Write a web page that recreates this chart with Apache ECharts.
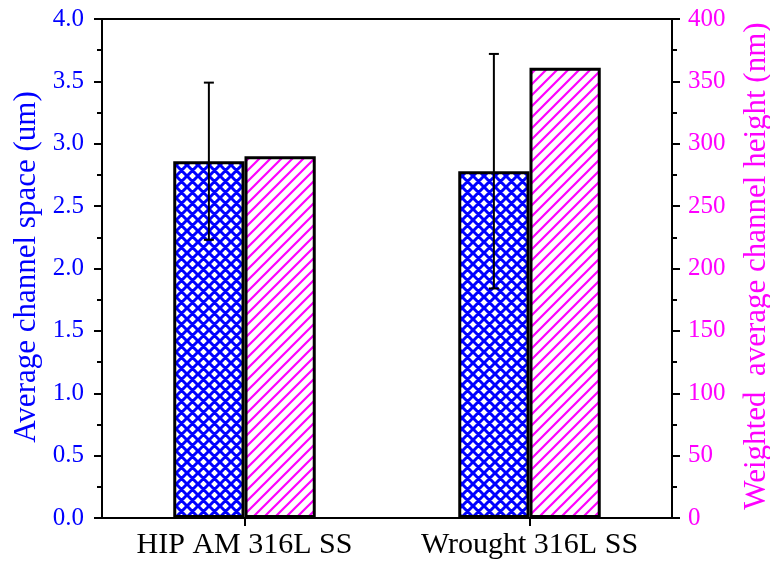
<!DOCTYPE html>
<html><head><meta charset="utf-8">
<script src="https://cdn.jsdelivr.net/npm/echarts@6/dist/echarts.min.js"></script>
<style>html,body{margin:0;padding:0;background:#fff}#c{width:770px;height:565px}</style>
</head><body><div id="c"></div>
<script>
const categories = ['HIP AM 316L SS', 'Wrought 316L SS'];
const channelSpace = [2.86, 2.78];
const channelSpaceErr = [0.63, 0.94];
const channelHeight = [290, 361];
const leftTitle = 'Average channel space (um)';
const rightTitle = 'Weighted  average channel height (nm)';

function makePattern(color, cross) {
  const s = 11;
  const c = document.createElement('canvas');
  c.width = s; c.height = s;
  const ctx = c.getContext('2d');
  ctx.fillStyle = '#fff';
  ctx.fillRect(0, 0, s, s);
  ctx.strokeStyle = color;
  ctx.lineWidth = cross ? 3 : 2.2;
  ctx.beginPath();
  for (let k = -1; k <= 1; k++) {
    ctx.moveTo(k * s - 1, s + 1); ctx.lineTo(k * s + s + 1, -1);
    if (cross) { ctx.moveTo(k * s - 1, -1); ctx.lineTo(k * s + s + 1, s + 1); }
  }
  ctx.stroke();
  return c;
}

const chart = echarts.init(document.getElementById('c'));
const font = '"Liberation Serif", "Times New Roman", serif';
chart.setOption({
  animation: false,
  backgroundColor: '#fff',
  grid: { left: 102, right: 98, top: 19, bottom: 47, show: true, borderColor: '#000', borderWidth: 2, backgroundColor: 'transparent' },
  graphic: [{
    type: 'text', x: 27, y: 267, rotation: Math.PI / 2,
    style: { text: leftTitle, fill: '#0000ff', font: '31px ' + font, align: 'center', verticalAlign: 'middle' }
  }, {
    type: 'text', x: 757, y: 266, rotation: Math.PI / 2,
    style: { text: rightTitle, fill: '#ff00ff', font: '31px ' + font, align: 'center', verticalAlign: 'middle' }
  }],
  xAxis: {
    type: 'category', data: categories,
    axisLine: { lineStyle: { color: '#000', width: 2 } },
    axisTick: { show: true, alignWithLabel: true, length: 8, lineStyle: { color: '#000', width: 2 } },
    axisLabel: { color: '#000', fontFamily: font, fontSize: 30, margin: 12 },
    splitLine: { show: false }
  },
  yAxis: [{
    type: 'value', min: 0, max: 4, interval: 0.5, position: 'left',
    axisLine: { show: true, lineStyle: { color: '#000', width: 2 } },
    axisTick: { show: true, length: 8, lineStyle: { color: '#000', width: 2 } },
    minorTick: { show: true, splitNumber: 2, length: 5, lineStyle: { color: '#000', width: 2 } },
    axisLabel: { color: '#0000ff', fontFamily: font, fontSize: 25, margin: 18, formatter: v => v.toFixed(1) },
    splitLine: { show: false }
  }, {
    type: 'value', min: 0, max: 400, interval: 50, position: 'right',
    axisLine: { show: true, lineStyle: { color: '#000', width: 2 } },
    axisTick: { show: true, length: 8, lineStyle: { color: '#000', width: 2 } },
    minorTick: { show: true, splitNumber: 2, length: 5, lineStyle: { color: '#000', width: 2 } },
    axisLabel: { color: '#ff00ff', fontFamily: font, fontSize: 25, margin: 16 },
    splitLine: { show: false }
  }],
  series: [{
    type: 'bar', yAxisIndex: 0, data: channelSpace, barWidth: '25%', barGap: '0%',
    itemStyle: { color: { image: makePattern('#0000ff', true), repeat: 'repeat' }, borderColor: '#000', borderWidth: 3 }
  }, {
    type: 'bar', yAxisIndex: 1, data: channelHeight, barWidth: '25%', barGap: '0%',
    itemStyle: { color: { image: makePattern('#ff00ff', false), repeat: 'repeat' }, borderColor: '#000', borderWidth: 3 }
  }, {
    type: 'custom', yAxisIndex: 0, z: 10,
    data: channelSpace.map((v, i) => [i, v - channelSpaceErr[i], v + channelSpaceErr[i]]),
    renderItem: function (params, api) {
      const band = api.size([1, 0])[0];
      const off = -band * 0.125;
      const lo = api.coord([api.value(0), api.value(1)]);
      const hi = api.coord([api.value(0), api.value(2)]);
      const x = lo[0] + off, cap = 5;
      const st = { stroke: '#000', lineWidth: 2 };
      return { type: 'group', children: [
        { type: 'line', shape: { x1: x, y1: lo[1], x2: x, y2: hi[1] }, style: st },
        { type: 'line', shape: { x1: x - cap, y1: lo[1], x2: x + cap, y2: lo[1] }, style: st },
        { type: 'line', shape: { x1: x - cap, y1: hi[1], x2: x + cap, y2: hi[1] }, style: st }
      ]};
    }
  }]
});
</script></body></html>
